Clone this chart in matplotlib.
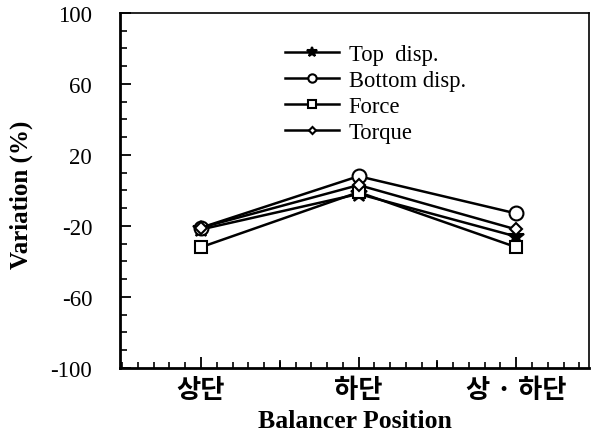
import matplotlib
matplotlib.use("Agg")
import matplotlib.pyplot as plt
from matplotlib.ticker import MultipleLocator, FixedLocator

categories = ["상단", "하단", "상 · 하단"]
top_disp = [-22, -2, -26]
bottom_disp = [-21, 8, -13]
force = [-32, -1, -32]
torque = [-21, 3, -22]
series_names = ["Top  disp.", "Bottom disp.", "Force", "Torque"]
y_ticks = [-100, -60, -20, 20, 60, 100]

serif = ["Liberation Serif", "DejaVu Serif"]
kor = ["Noto Sans CJK KR", "DejaVu Sans"]

fig = plt.figure(figsize=(5.91, 4.35), dpi=100)
ax = fig.add_axes([0.203, 0.152, 0.794, 0.816])

x = [1, 2, 3]
styles = [
    dict(marker="*", markersize=12, markerfacecolor="black"),
    dict(marker="o", markersize=10, markerfacecolor="white"),
    dict(marker="s", markersize=9, markerfacecolor="white"),
    dict(marker="D", markersize=6, markerfacecolor="white"),
]
data = [top_disp, bottom_disp, force, torque]
handles = []
for vals, name, st in zip(data, series_names, styles):
    h, = ax.plot(x, vals, color="black", lw=1.8, markeredgecolor="black",
                 markeredgewidth=1.5, label=name, **st)
    handles.append(h)

ax.set_xlim(0.486, 3.463)
ax.set_ylim(-100, 100)
ax.yaxis.set_major_locator(FixedLocator(y_ticks))
ax.yaxis.set_minor_locator(MultipleLocator(10))
ax.xaxis.set_major_locator(FixedLocator(x))
ax.xaxis.set_minor_locator(MultipleLocator(0.1))
ax.set_xticklabels(categories, fontfamily=kor, fontsize=19, fontweight="bold")
ax.set_yticklabels([str(v) for v in y_ticks], fontfamily=serif, fontsize=16.5)

ax.tick_params(axis="y", which="major", direction="in", length=8, width=1.3, pad=20)
ax.tick_params(axis="y", which="minor", direction="in", length=5, width=1.2)
ax.tick_params(axis="x", which="major", direction="in", length=8, width=1.3, pad=6)
ax.tick_params(axis="x", which="minor", direction="in", length=4, width=1.2)
for xm in [1.5, 2.5]:
    ax.plot([xm, xm], [-100, -96], color="black", lw=1.3, clip_on=False)

for side in ["left", "bottom"]:
    ax.spines[side].set_linewidth(2)
for side in ["top", "right"]:
    ax.spines[side].set_linewidth(1.2)

ax.set_xlabel("Balancer Position", fontfamily=serif, fontsize=18.5, fontweight="bold", labelpad=4)
ax.set_ylabel("Variation (%)", fontfamily=serif, fontsize=18, fontweight="bold")
ax.yaxis.set_label_coords(-0.185, 0.49)

leg = ax.legend(handles=handles, loc="upper left", bbox_to_anchor=(0.352, 0.912),
                frameon=False, prop={"family": serif, "size": 16.3},
                handlelength=2.4, handletextpad=0.4, labelspacing=0.22,
                markerscale=0.6, borderaxespad=0, borderpad=0)

fig.savefig("out.png", dpi=100)
